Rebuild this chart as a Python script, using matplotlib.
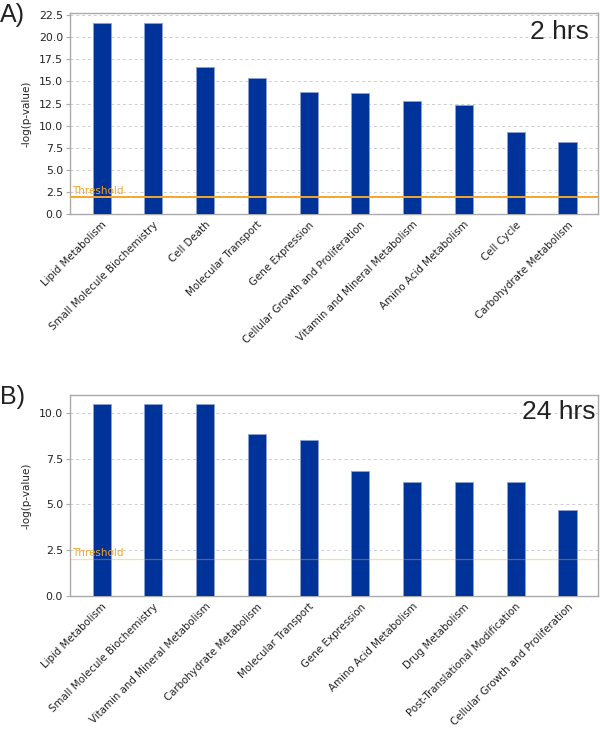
import matplotlib
matplotlib.use("Agg")
import matplotlib.pyplot as plt
import numpy as np

cats_2h = ["Lipid Metabolism", "Small Molecule Biochemistry", "Cell Death", "Molecular Transport",
           "Gene Expression", "Cellular Growth and Proliferation", "Vitamin and Mineral Metabolism",
           "Amino Acid Metabolism", "Cell Cycle", "Carbohydrate Metabolism"]
vals_2h = [21.65, 21.65, 16.65, 15.4, 13.85, 13.7, 12.8, 12.3, 9.25, 8.1]
thr_2h = 1.95

cats_24h = ["Lipid Metabolism", "Small Molecule Biochemistry", "Vitamin and Mineral Metabolism",
            "Carbohydrate Metabolism", "Molecular Transport", "Gene Expression",
            "Amino Acid Metabolism", "Drug Metabolism", "Post-Translational Modification",
            "Cellular Growth and Proliferation"]
vals_24h = [10.47, 10.47, 10.47, 8.85, 8.5, 6.84, 6.24, 6.24, 6.24, 4.69]
thr_24h = 2.0

yticks_2h = [0.0, 2.5, 5.0, 7.5, 10.0, 12.5, 15.0, 17.5, 20.0, 22.5]
yticks_24h = [0.0, 2.5, 5.0, 7.5, 10.0]

fig = plt.figure(figsize=(6, 7.38), dpi=100)
ax1 = fig.add_axes([0.1167, 0.710, 0.88, 0.272])
ax2 = fig.add_axes([0.1167, 0.1924, 0.88, 0.2724])

bar_color = "#003399"
edge_color = "#8da2d6"
spine_color = "#aaaaaa"
thr_color = "#f5a52a"
txt_color = "#222222"

def draw(ax, cats, vals, thr, yticks, ymax, label, label_x, label_y, panel, thr_lw, thr_alpha):
    x = np.arange(len(cats))
    ax.bar(x, vals, width=0.35, color=bar_color, edgecolor=edge_color, linewidth=0.6, zorder=3)
    ax.set_xlim(-0.61, len(cats) - 0.41)
    ax.set_ylim(0, ymax)
    ax.set_yticks(yticks)
    ax.set_yticklabels([f"{t:.1f}" for t in yticks], fontsize=7.8, color=txt_color)
    ax.yaxis.grid(True, linestyle=(0, (3, 3)), color="#cccccc", linewidth=0.7, zorder=0)
    ax.set_axisbelow(True)
    ax.set_xticks(x)
    ax.set_xticklabels(cats, rotation=45, ha="right", rotation_mode="anchor", fontsize=7.4,
                       color=txt_color)
    ax.tick_params(axis="x", length=0, pad=4)
    ax.tick_params(axis="y", length=3, color=spine_color, pad=2)
    for s in ax.spines.values():
        s.set_color(spine_color)
        s.set_linewidth(1.0)
    ax.set_ylabel("-log(p-value)", fontsize=7.5, color=txt_color, labelpad=5)
    ax.axhline(thr, color=thr_color, linewidth=thr_lw, alpha=thr_alpha, zorder=4)
    ax.text(-0.58, thr + 0.05, "Threshold", color=thr_color,
            fontsize=7.5, va="bottom", ha="left", zorder=5)
    ax.text(label_x, label_y, label, transform=ax.transAxes, fontsize=19, ha="right", va="top",
            color=txt_color, family="Liberation Sans")
    fig.text(0.0, ax.get_position().y1 + 10 / 738, panel, fontsize=18, ha="left", va="top",
             color=txt_color, family="Liberation Sans")

draw(ax1, cats_2h, vals_2h, thr_2h, yticks_2h, 22.72, "2 hrs", 0.983, 0.965, "A)", 1.4, 1.0)
draw(ax2, cats_24h, vals_24h, thr_24h, yticks_24h, 10.97, "24 hrs", 0.996, 0.975, "B)", 0.9, 0.4)

fig.savefig("out.png", dpi=100)
